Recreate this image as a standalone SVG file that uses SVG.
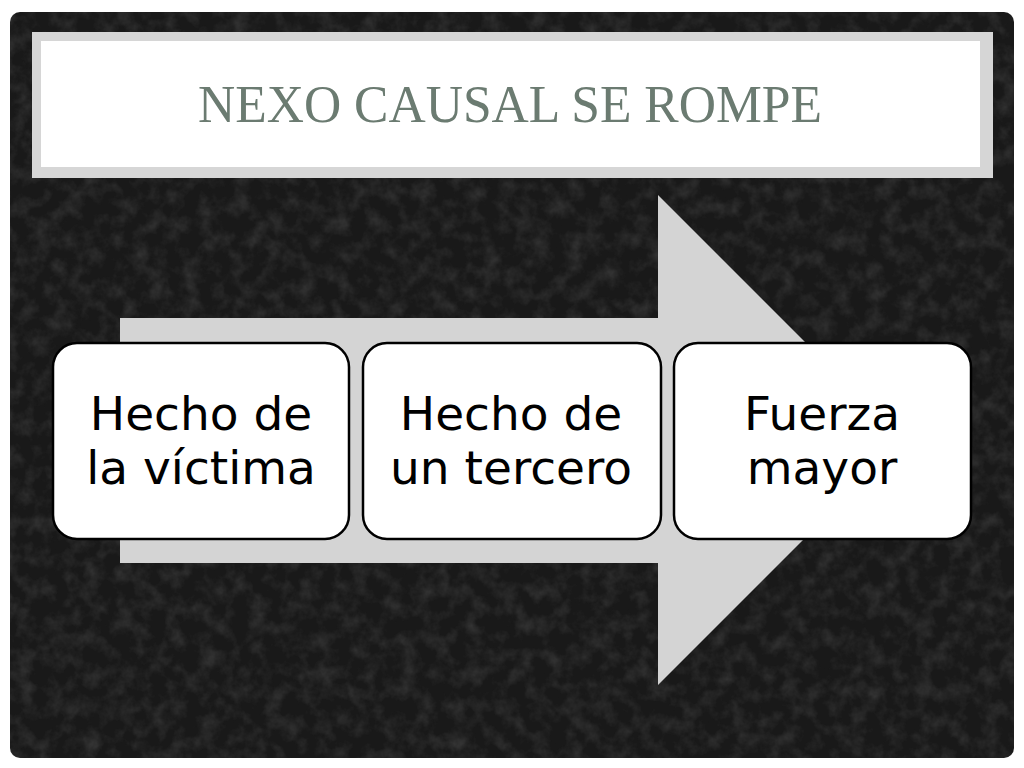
<svg xmlns="http://www.w3.org/2000/svg" width="1024" height="768" viewBox="0 0 1024 768">
  <defs>
    <filter id="tex" x="0" y="0" width="100%" height="100%">
      <feTurbulence type="fractalNoise" baseFrequency="0.06" numOctaves="4" seed="3" result="n"/>
      <feColorMatrix in="n" type="matrix" values="0 0 0 0 0.2  0 0 0 0 0.2  0 0 0 0 0.2  0 0 0 1 -0.4" result="c"/>
      <feComposite in="c" in2="SourceGraphic" operator="in"/>
    </filter>
  </defs>
  <style>
    .box { fill: #ffffff; stroke: #000000; stroke-width: 2.5; }
    .lbl { font-family: "DejaVu Sans", "Noto Sans", sans-serif; font-size: 47px; fill: #000000; text-anchor: middle; }
    .title { font-family: "Liberation Serif", "DejaVu Serif", serif; font-size: 52px; fill: #6b7b71; text-anchor: middle; }
  </style>
  <rect x="0" y="0" width="1024" height="768" fill="#ffffff"/>
  <g id="background">
    <rect x="10" y="12" width="1004" height="746" rx="10" fill="#191919"/>
    <rect x="10" y="12" width="1004" height="746" rx="10" fill="#191919" filter="url(#tex)" opacity="0.5"/>
  </g>
  <g id="title">
    <rect x="32" y="32" width="961" height="146" fill="#d6d6d6"/>
    <rect x="41" y="41" width="939" height="126" fill="#ffffff"/>
    <text class="title" x="510" y="122" textLength="624" lengthAdjust="spacingAndGlyphs">NEXO CAUSAL SE ROMPE</text>
  </g>
  <g id="connectors">
    <path d="M120,318 L658,318 L658,195 L903,440 L658,685 L658,563 L120,563 Z" fill="#d4d4d4"/>
  </g>
  <g id="node1">
    <rect class="box" x="53" y="343" width="296" height="196" rx="24"/>
    <text class="lbl" x="201" y="430">Hecho de</text>
    <text class="lbl" x="201" y="484">la víctima</text>
  </g>
  <g id="node2">
    <rect class="box" x="363" y="343" width="298" height="196" rx="24"/>
    <text class="lbl" x="511" y="430">Hecho de</text>
    <text class="lbl" x="511" y="484">un tercero</text>
  </g>
  <g id="node3">
    <rect class="box" x="674" y="343" width="297" height="196" rx="24"/>
    <text class="lbl" x="822" y="430">Fuerza</text>
    <text class="lbl" x="822" y="484">mayor</text>
  </g>
</svg>
